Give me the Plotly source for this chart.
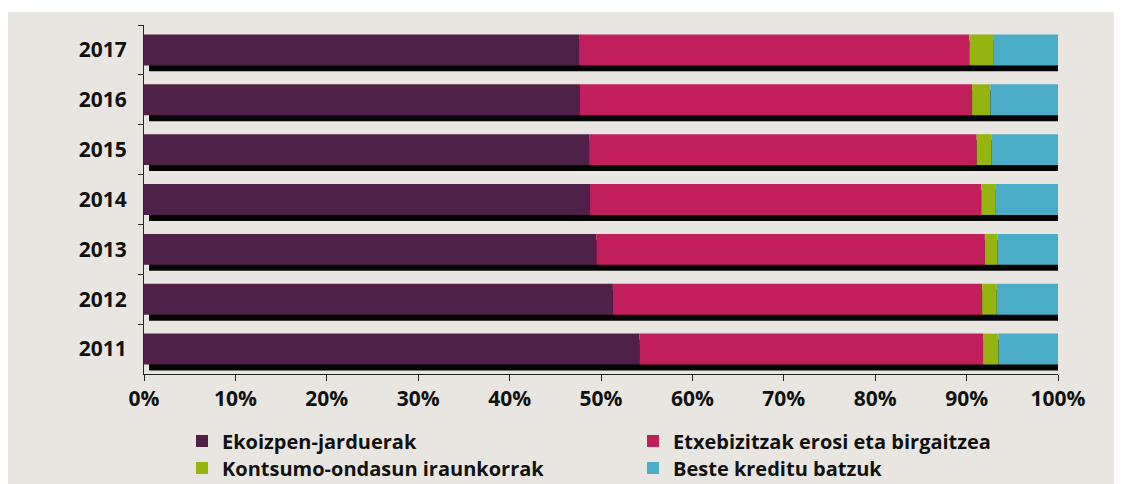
import plotly.graph_objects as go

years = ["2011", "2012", "2013", "2014", "2015", "2016", "2017"]
ekoizpen = [54.2, 51.3, 49.5, 48.8, 48.7, 47.7, 47.6]
etxebizitzak = [37.6, 40.4, 42.5, 42.8, 42.4, 42.9, 42.7]
kontsumo = [1.7, 1.6, 1.4, 1.6, 1.6, 2.0, 2.6]
beste = [6.5, 6.7, 6.6, 6.8, 7.3, 7.4, 7.1]

series = [
    ("Ekoizpen-jarduerak", ekoizpen, "#4f2149", "legend"),
    ("Etxebizitzak erosi eta birgaitzea", etxebizitzak, "#c11e5c", "legend2"),
    ("Kontsumo-ondasun iraunkorrak", kontsumo, "#95b40f", "legend3"),
    ("Beste kreditu batzuk", beste, "#4aacc6", "legend4"),
]

pos = list(range(len(years)))
BAR_W = 0.62
SHADOW_DY = 0.12
SHADOW_DX = 0.55

fig = go.Figure()

totals = [sum(v) for v in zip(ekoizpen, etxebizitzak, kontsumo, beste)]
fig.add_trace(go.Bar(
    y=[p - SHADOW_DY for p in pos],
    x=[t - SHADOW_DX + 0.3 for t in totals],
    base=[SHADOW_DX] * len(pos),
    orientation="h", width=BAR_W,
    marker=dict(color="#050505", line=dict(width=0)),
    showlegend=False, hoverinfo="skip",
))

cum = [0.0] * len(pos)
for name, vals, col, lg in series:
    fig.add_trace(go.Bar(
        y=pos, x=vals, base=cum[:], orientation="h", width=BAR_W,
        name=name, legend=lg, marker=dict(color=col, line=dict(width=0)),
    ))
    cum = [c + v for c, v in zip(cum, vals)]

FAM = "Open Sans"
tfont = dict(family=FAM, size=21, color="#111111", weight="bold")
lfont = dict(family=FAM, size=20, color="#111111", weight="bold")

# figure is drawn with an 8px page offset; plot area (figure px): x 136..1050, y 17..366
W, H = 1114, 476
L, R, T, B = 136, 1050, 17, 366

def px_x(p):
    return (p - L) / (R - L)

def px_y(p):
    return (B - p) / (B - T)

def leg(xp, yp):
    return dict(x=px_x(xp), y=px_y(yp), xanchor="left", yanchor="middle",
                orientation="v", font=lfont, bgcolor="rgba(0,0,0,0)",
                itemwidth=30)

fig.update_layout(
    width=W, height=H,
    margin=dict(l=L, r=W - R, t=T, b=H - B, autoexpand=False),
    paper_bgcolor="#e9e6e1",
    plot_bgcolor="rgba(0,0,0,0)",
    barmode="overlay",
    font=tfont,
    showlegend=True,
    legend=leg(174, 433),
    legend2=leg(625, 433),
    legend3=leg(174, 460),
    legend4=leg(625, 460),
    xaxis=dict(
        range=[0, 100], tickvals=list(range(0, 101, 10)),
        ticktext=[f"{v}%" for v in range(0, 101, 10)],
        ticks="outside", ticklen=6, tickcolor="#222", tickwidth=1,
        showline=True, linecolor="#222", linewidth=1,
        showgrid=False, zeroline=False, tickfont=tfont,
    ),
    yaxis=dict(
        range=[-0.5, len(years) - 0.5], tickvals=pos, ticktext=years,
        ticks="", showline=True, linecolor="#222", linewidth=1,
        showgrid=False, zeroline=False, ticklabelstandoff=12, tickfont=tfont,
        minor=dict(tickmode="array", tickvals=[p + 0.5 for p in pos],
                   ticks="outside", ticklen=5, tickcolor="#222", tickwidth=1,
                   showgrid=False),
    ),
    shapes=[dict(type="rect", xref="paper", yref="paper",
                 x0=px_x(-10), x1=px_x(W + 10), y0=px_y(4), y1=px_y(-10),
                 fillcolor="white", line=dict(width=0), layer="below")],
)

fig.write_html("out.html")
